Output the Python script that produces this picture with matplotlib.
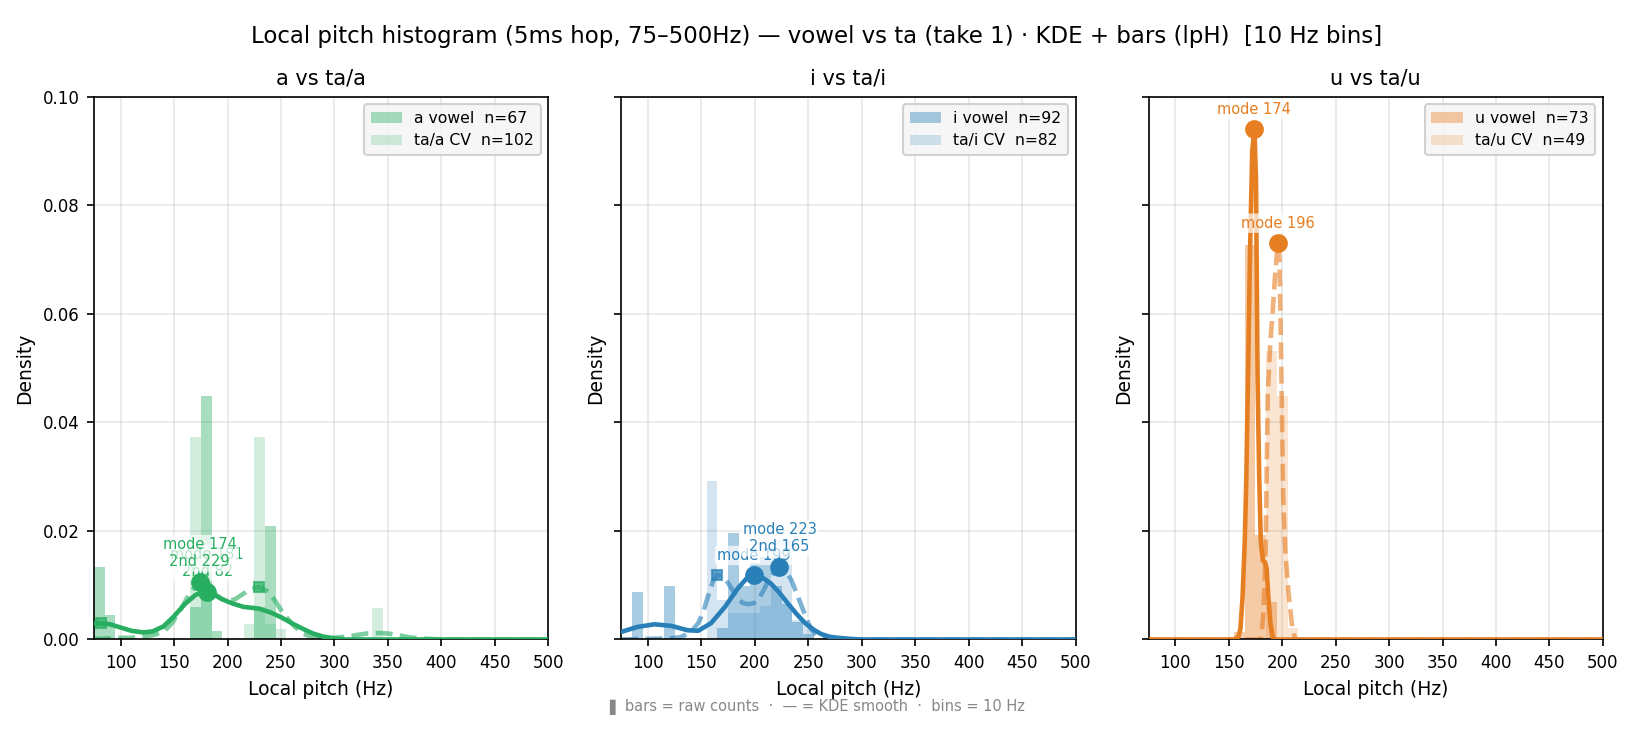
import numpy as np
import matplotlib
matplotlib.use("Agg")
import matplotlib.pyplot as plt
from matplotlib.ticker import FormatStrFormatter

# ---- data ----
vowels = ["a", "i", "u"]
colors = ["#27ae60", "#2980b9", "#e67e22"]

# histogram counts per 10 Hz bin (left edge of bin)
n_vowel = [67, 92, 73]
n_cv = [102, 82, 49]

a_vowel_bins = [75, 85, 165, 175, 185, 225, 235]
a_vowel_counts = [9, 3, 4, 30, 1, 4, 14]
a_cv_bins = [165, 175, 215, 225, 235, 245, 335]
a_cv_counts = [38, 11, 3, 38, 3, 2, 6]

i_vowel_bins = [85, 115, 165, 175, 185, 195, 205, 215, 225, 235, 245]
i_vowel_counts = [8, 9, 2, 18, 9, 13, 14, 9, 6, 3, 1]
i_cv_bins = [155, 165, 175, 185, 195, 205, 215, 225, 235, 245]
i_cv_counts = [24, 6, 4, 4, 4, 5, 15, 15, 3, 2]

u_vowel_bins = [155, 165, 175, 185]
u_vowel_counts = [1, 53, 14, 5]
u_cv_bins = [185, 195, 205]
u_cv_counts = [26, 22, 1]

# KDE curves (Hz, density)
a_vowel_kde_x = [75, 82, 90, 100, 110, 121, 130, 140, 150, 160, 170, 176, 181, 187, 195,
                 205, 215, 229, 240, 250, 260, 270, 280, 290, 300, 310, 500]
a_vowel_kde_y = [0.0029, 0.0030, 0.0028, 0.0022, 0.0016, 0.0013, 0.0015, 0.0024, 0.0043,
                 0.0065, 0.0082, 0.0087, 0.0088, 0.0083, 0.0074, 0.0066, 0.0060, 0.0057,
                 0.0050, 0.0041, 0.0030, 0.0020, 0.0011, 0.0005, 0.0002, 0.0, 0.0]
a_cv_kde_x = [75, 90, 100, 110, 120, 130, 140, 148, 156, 164, 169, 174, 180, 187, 194, 200,
              207, 213, 220, 229, 237, 244, 252, 262, 270, 280, 290, 300, 310, 320, 330,
              340, 350, 360, 370, 380, 390, 400, 500]
a_cv_kde_y = [0.0001, 0.0002, 0.0003, 0.0003, 0.0005, 0.0008, 0.0014, 0.0030, 0.0055,
              0.0083, 0.0096, 0.0106, 0.0098, 0.0086, 0.0075, 0.0071, 0.0074, 0.0082,
              0.0091, 0.0097, 0.0089, 0.0073, 0.0048, 0.0025, 0.0011, 0.0004, 0.0002,
              0.0003, 0.0005, 0.0008, 0.0011, 0.0012, 0.0011, 0.0008, 0.0004, 0.0002,
              0.0001, 0.0, 0.0]

i_vowel_kde_x = [75, 90, 106, 122, 137, 147, 159, 172, 184, 192, 199, 207, 215, 223, 231,
                 239, 247, 255, 262, 270, 278, 290, 300, 500]
i_vowel_kde_y = [0.0014, 0.0023, 0.0028, 0.0025, 0.0017, 0.0016, 0.0030, 0.0060, 0.0094,
                 0.0112, 0.0118, 0.0114, 0.0103, 0.0086, 0.0066, 0.0047, 0.0030, 0.0018,
                 0.0010, 0.0005, 0.0003, 0.0001, 0.0, 0.0]
i_cv_kde_x = [75, 100, 120, 130, 137, 142, 147, 152, 156, 161, 165, 170, 175, 180, 184, 189,
              194, 199, 203, 208, 212, 218, 223, 228, 234, 239, 244, 249, 253, 258, 263,
              270, 280, 500]
i_cv_kde_y = [0.0, 0.0001, 0.0002, 0.0004, 0.0010, 0.0018, 0.0030, 0.0052, 0.0079, 0.0108,
              0.0119, 0.0115, 0.0104, 0.0088, 0.0074, 0.0067, 0.0065, 0.0067, 0.0073,
              0.0090, 0.0106, 0.0124, 0.0134, 0.0128, 0.0110, 0.0085, 0.0060, 0.0035,
              0.0017, 0.0008, 0.0004, 0.0001, 0.0, 0.0]

u_vowel_kde_x = [75, 155, 159, 161, 163, 165, 166.5, 168, 170, 172, 174, 175.5, 177, 178.5,
                 180, 182, 184, 185.5, 187, 189, 191, 193, 500]
u_vowel_kde_y = [0.0, 0.0, 0.0005, 0.002, 0.008, 0.018, 0.030, 0.048, 0.072, 0.090, 0.094,
                 0.085, 0.048, 0.030, 0.018, 0.0145, 0.0142, 0.013, 0.008, 0.003, 0.0005,
                 0.0, 0.0]
u_cv_kde_x = [75, 178, 180.5, 182.5, 184.5, 186.5, 189, 191, 193, 195, 196, 197.5, 199, 201,
              203, 206, 209, 212, 500]
u_cv_kde_y = [0.0, 0.0, 0.0005, 0.005, 0.016, 0.045, 0.055, 0.060, 0.066, 0.071, 0.073,
              0.070, 0.052, 0.026, 0.016, 0.0085, 0.003, 0.0, 0.0]

# modes / second peaks (None = no second peak)
vowel_modes = [181, 199, 174]
vowel_2nd = [82, None, None]
cv_modes = [174, 223, 196]
cv_2nd = [229, 165, None]

hist_bins = [(a_vowel_bins, a_vowel_counts, a_cv_bins, a_cv_counts),
             (i_vowel_bins, i_vowel_counts, i_cv_bins, i_cv_counts),
             (u_vowel_bins, u_vowel_counts, u_cv_bins, u_cv_counts)]
kdes = [(a_vowel_kde_x, a_vowel_kde_y, a_cv_kde_x, a_cv_kde_y),
        (i_vowel_kde_x, i_vowel_kde_y, i_cv_kde_x, i_cv_kde_y),
        (u_vowel_kde_x, u_vowel_kde_y, u_cv_kde_x, u_cv_kde_y)]

BIN_W = 10

fig, axes = plt.subplots(1, 3, figsize=(10.893, 4.88), dpi=150, sharey=True)
fig.subplots_adjust(left=0.0575, right=0.981, top=0.868, bottom=0.1264, wspace=0.1605)


def annotate(ax, x, y, text, color):
    ax.annotate(text, (x, y), xytext=(0, 6), textcoords="offset points",
                ha="center", va="bottom", fontsize=7, color=color, zorder=4,
                bbox=dict(boxstyle="round,pad=0.15", fc="white", ec="none", alpha=0.7))


for k, ax in enumerate(axes):
    v = vowels[k]
    c = colors[k]
    vb, vc, cb, cc = hist_bins[k]
    vx, vy, cx, cy = kdes[k]

    v_dens = np.array(vc) / (n_vowel[k] * BIN_W)
    c_dens = np.array(cc) / (n_cv[k] * BIN_W)
    ax.bar(vb, v_dens, width=BIN_W, align="edge", color=c, alpha=0.4, lw=0,
           label=f"{v} vowel  n={n_vowel[k]}", zorder=2)
    ax.bar(cb, c_dens, width=BIN_W, align="edge", color=c, alpha=0.2, lw=0,
           label=f"ta/{v} CV  n={n_cv[k]}", zorder=2)

    # dashed CV curve underneath the solid vowel curve
    ax.plot(cx, cy, color=c, lw=2.2, ls="--", alpha=0.6, zorder=2.5)
    ax.plot(vx, vy, color=c, lw=2.2, zorder=3)

    # mode markers + labels (vowel first, CV on top)
    for mode, second, xs, ys in [(vowel_modes[k], vowel_2nd[k], vx, vy),
                                 (cv_modes[k], cv_2nd[k], cx, cy)]:
        my = np.interp(mode, xs, ys)
        ax.plot(mode, my, "o", color=c, ms=8, zorder=5)
        label = f"mode {mode}"
        if second is not None:
            sy = np.interp(second, xs, ys)
            ax.plot(second, sy, "s", color=c, ms=5, alpha=0.7, zorder=5)
            label += f"\n2nd {second}"
        annotate(ax, mode, my, label, c)

    ax.set_xlim(75, 500)
    ax.set_ylim(0, 0.1)
    ax.set_xticks(range(100, 501, 50))
    ax.yaxis.set_major_formatter(FormatStrFormatter("%.2f"))
    ax.tick_params(labelsize=8)
    ax.yaxis.set_tick_params(labelleft=(k == 0))
    ax.set_axisbelow(True)
    ax.grid(True, alpha=0.3)
    ax.set_title(f"{v} vs ta/{v}", fontsize=10)
    ax.set_xlabel("Local pitch (Hz)", fontsize=9)
    ax.set_ylabel("Density", fontsize=9)
    ax.legend(loc="upper right", fontsize=7.5, facecolor="#f5f5f5", framealpha=0.9)

fig.suptitle("Local pitch histogram (5ms hop, 75\u2013500Hz) \u2014 vowel vs ta (take 1) "
             "\u00b7 KDE + bars (lpH)  [10 Hz bins]", fontsize=11, y=0.966)
fig.text(0.5, 0.034, "\u258c bars = raw counts  \u00b7  \u2014 = KDE smooth  \u00b7  bins = 10 Hz",
         ha="center", va="center", fontsize=7, color="#888888")

fig.savefig("out.png", dpi=150)
